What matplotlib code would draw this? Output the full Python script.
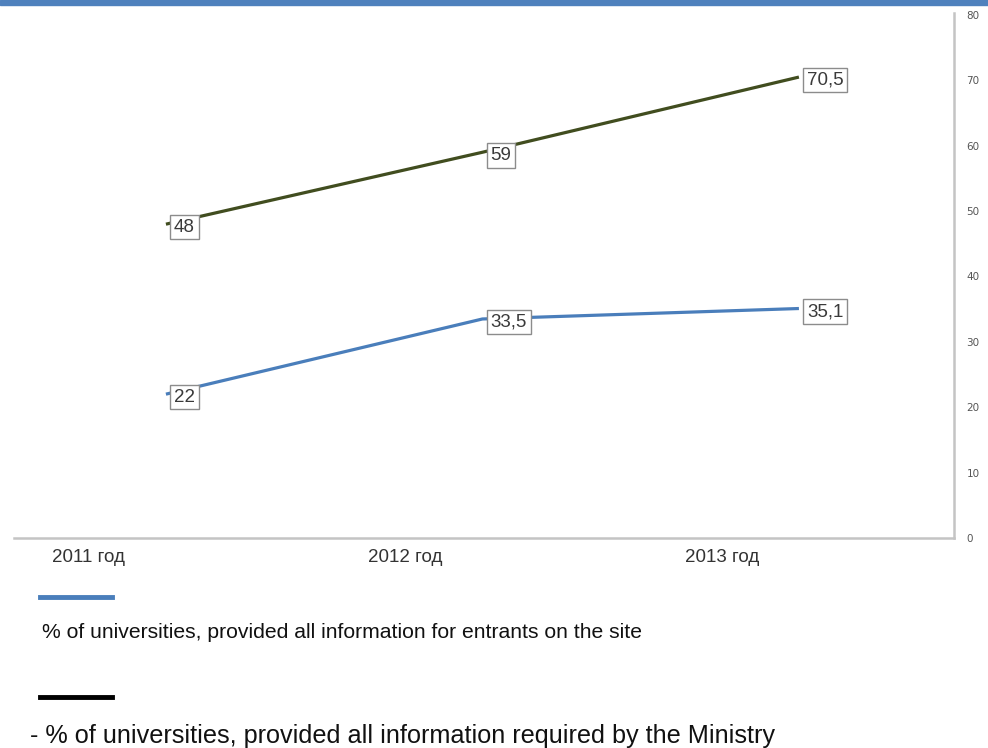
import matplotlib
matplotlib.use("Agg")
import matplotlib.pyplot as plt
from matplotlib.transforms import ScaledTranslation
from matplotlib.patches import Rectangle
from matplotlib.lines import Line2D

years = ["2011 год", "2012 год", "2013 год"]
ministry = [48, 59, 70.5]          # dark olive line
entrants = [22, 33.5, 35.1]        # blue line
ministry_labels = ["48", "59", "70,5"]
entrants_labels = ["22", "33,5", "35,1"]
yticks = [0, 10, 20, 30, 40, 50, 60, 70, 80]
legend_texts = [
    "% of universities, provided all information for entrants on the site",
    "- % of universities, provided all information required by the Ministry",
]

BLUE = "#4a7ebb"
OLIVE = "#414d1f"
W, H = 988, 748
fig = plt.figure(figsize=(W / 100, H / 100), dpi=100)

# top blue band
fig.patches.append(Rectangle((0, 1 - 5 / H), 1, 5 / H, transform=fig.transFigure,
                             color="#4f81bd", zorder=0))

ax_l, ax_r, ax_t, ax_b = 14, 954, 13, 538
ax = fig.add_axes([ax_l / W, 1 - ax_b / H, (ax_r - ax_l) / W, (ax_b - ax_t) / H])

x = list(range(len(years)))
ax.plot(x, ministry, color=OLIVE, lw=2.3, solid_capstyle="butt", zorder=2)
ax.plot(x, entrants, color=BLUE, lw=2.3, solid_capstyle="butt", zorder=2)

for xs, vals, labs in [(x, ministry, ministry_labels), (x, entrants, entrants_labels)]:
    for xi, v, lab in zip(xs, vals, labs):
        ax.annotate(lab, (xi, v), xytext=(8, -3), textcoords="offset pixels",
                    ha="left", va="center", fontsize=13.5, color="#3a3a3a",
                    family="Liberation Sans", zorder=3,
                    bbox=dict(boxstyle="square,pad=0.2", fc="white",
                              ec="#8c8c8c", lw=1.0))

ax.set_xlim(-0.48, 2.49)
ax.set_ylim(0, 80.3)

for s in ["left", "top"]:
    ax.spines[s].set_visible(False)
for s in ["right", "bottom"]:
    ax.spines[s].set_color("#c4c4c4")
    ax.spines[s].set_linewidth(1.8)

ax.set_xticks(x)
ax.set_xticklabels(years, fontsize=13.5, color="#333333", family="Liberation Sans")
ax.tick_params(axis="x", length=0, pad=8)
shift = ScaledTranslation(-77 / 100, 0, fig.dpi_scale_trans)
for lab in ax.get_xticklabels():
    lab.set_transform(lab.get_transform() + shift)

ax.yaxis.tick_right()
ax.set_yticks(yticks)
ax.set_yticklabels([str(t) for t in yticks], fontsize=7.5, color="#555555",
                   family="DejaVu Sans")
ax.tick_params(axis="y", length=0, pad=9)

# legend-like annotation below
fig.add_artist(Line2D([40 / W, 112 / W], [1 - 597 / H] * 2, color=BLUE, lw=3.5,
                      transform=fig.transFigure))
fig.text(42 / W, 1 - 633 / H, legend_texts[0], fontsize=15.2, color="#111111",
         family="Liberation Sans", va="center", ha="left")
fig.add_artist(Line2D([40 / W, 112 / W], [1 - 697 / H] * 2, color="black", lw=3.5,
                      transform=fig.transFigure))
fig.text(30 / W, 1 - 736 / H, legend_texts[1], fontsize=18.2, color="#111111",
         family="Liberation Sans", va="center", ha="left")

fig.savefig("out.png", dpi=100)
